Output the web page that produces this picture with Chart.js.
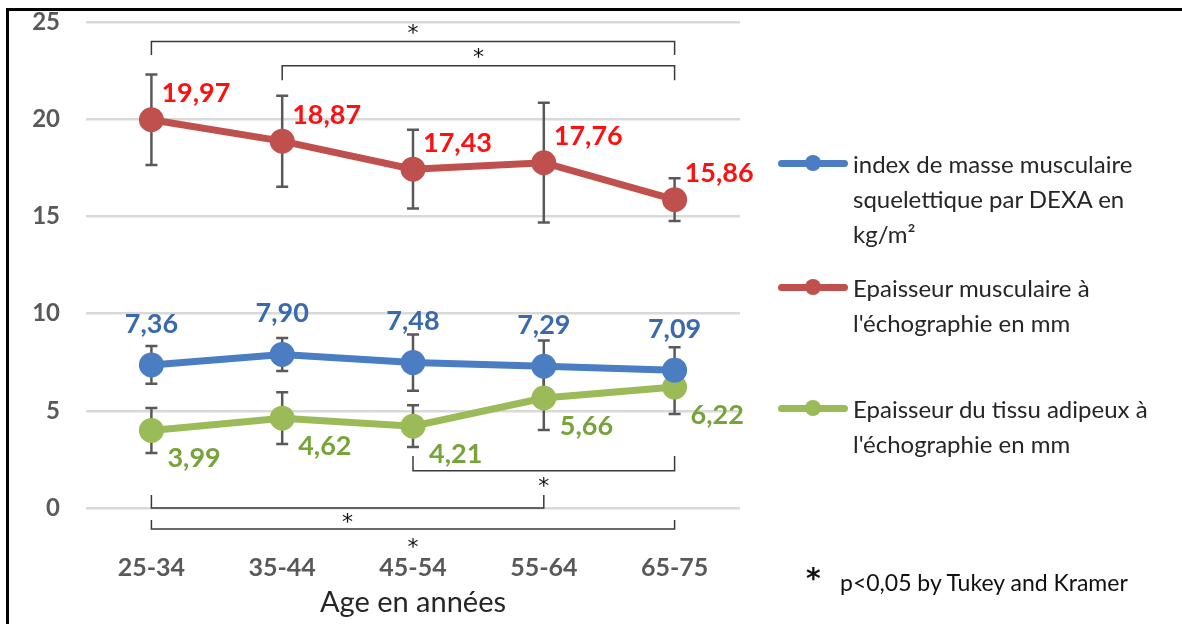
<!doctype html>
<html lang="fr">
  <head>
    <meta charset="utf-8">
    <title>Epaisseur musculaire selon l'age</title>
    <style>
      * { margin: 0; padding: 0; }
      body { width: 1182px; height: 624px; background: #fff; position: relative; overflow: hidden; font-family: Lato, sans-serif; }
      .frame { position: absolute; left: 6px; top: 8px; width: 1200px; height: 700px; border-left: 3px solid #000; border-top: 3px solid #000; }
      #myChart { position: absolute; left: 0; top: 0; }
      .legend { position: absolute; left: 778px; top: 0; color: #262626; font-size: 24px; }
      .legend .item { position: absolute; left: 0; width: 400px; }
      .legend .sym { position: absolute; left: 0; width: 70px; height: 7px; border-radius: 4px; }
      .legend .sym i { position: absolute; left: 27px; top: -5px; width: 16px; height: 16px; border-radius: 50%; background: inherit; }
      .legend .txt { position: absolute; left: 75px; line-height: 35px; white-space: nowrap; }
      .note { position: absolute; left: 840px; top: 568px; font-size: 23px; color: #111; white-space: nowrap; }
      .note b { position: absolute; left: -34px; top: -6px; font-size: 28px; font-family: 'DejaVu Sans', sans-serif; }
    </style>
  </head>
  <body>
    <div class="frame"></div>
    <canvas id="myChart" width="1182" height="624"></canvas>
    <div class="legend" id="legend"></div>
    <div class="note"><b>*</b>p&lt;0,05 by Tukey and Kramer</div>
    <script src="https://cdn.jsdelivr.net/npm/chart.js"></script>
    <script>
    // data
    const categories = ['25-34', '35-44', '45-54', '55-64', '65-75'];
    const yTicks = [0, 5, 10, 15, 20, 25];

    const dexaIndex = [7.36, 7.90, 7.48, 7.29, 7.09];
    const dexaSd = [0.97, 0.85, 1.45, 1.32, 1.18];
    const muscleThickness = [19.97, 18.87, 17.43, 17.76, 15.86];
    const muscleSd = [2.33, 2.34, 2.03, 3.08, 1.10];
    const fatThickness = [3.99, 4.62, 4.21, 5.66, 6.22];
    const fatSd = [1.16, 1.33, 1.07, 1.65, 1.39];

    const seriesLabels = [
      ['index de masse musculaire', 'squelettique par DEXA en', 'kg/m²'],
      ['Epaisseur musculaire à', "l'échographie en mm"],
      ['Epaisseur du tissu adipeux à', "l'échographie en mm"]
    ];

    // significance brackets: category indexes, y level of the bar (axis units)
    const brackets = [
      { from: 0, to: 4, level: 24.0, tip: 23.3, star: 24.6 },
      { from: 1, to: 4, level: 22.75, tip: 22.0, star: 23.4 },
      { from: 2, to: 4, level: 1.92, tip: 2.67, star: 1.3 },
      { from: 0, to: 3, level: 0.0, tip: 0.67, star: -0.55 },
      { from: 0, to: 4, level: -1.08, tip: -0.62, star: -1.82 }
    ];

    const colors = ['#4a7dc2', '#c0504d', '#9bbb59'];
    const labelColors = ['#3a69ad', '#ff1010', '#76a33a'];
    const sdList = [dexaSd, muscleSd, fatSd];
    // label offset per series (px): dx, dy, align
    const labelPos = [
      { dx: 0, dy: -41, align: 'center' },
      { dx: 10, dy: -26, align: 'left' },
      { dx: 16, dy: 28, align: 'left' }
    ];

    // legend (html)
    const legendBox = document.getElementById('legend');
    const legendTops = [163, 287, 408];
    seriesLabels.forEach(function (lines, i) {
      const item = document.createElement('div');
      item.className = 'item';
      item.style.top = (legendTops[i] - 17.5) + 'px';
      item.innerHTML = '<div class="sym" style="top:14px;background:' + colors[i] + '"><i></i></div>' +
        '<div class="txt">' + lines.join('<br>') + '</div>';
      legendBox.appendChild(item);
    });

    // error bars, drawn under the points
    const errorBars = {
      id: 'errorBars',
      beforeDatasetsDraw(chart) {
        const ctx = chart.ctx;
        const y = chart.scales.y;
        ctx.save();
        ctx.strokeStyle = '#595959';
        ctx.lineWidth = 2.5;
        chart.data.datasets.forEach(function (ds, i) {
          const meta = chart.getDatasetMeta(i);
          meta.data.forEach(function (pt, j) {
            const v = ds.data[j];
            const sd = sdList[i][j];
            const top = y.getPixelForValue(v + sd);
            const bot = y.getPixelForValue(v - sd);
            ctx.beginPath();
            ctx.moveTo(pt.x, top); ctx.lineTo(pt.x, bot);
            ctx.moveTo(pt.x - 6, top); ctx.lineTo(pt.x + 6, top);
            ctx.moveTo(pt.x - 6, bot); ctx.lineTo(pt.x + 6, bot);
            ctx.stroke();
          });
        });
        ctx.restore();
      }
    };

    // value labels + significance brackets
    const annotations = {
      id: 'annotations',
      afterDatasetsDraw(chart) {
        const ctx = chart.ctx;
        const x = chart.scales.x;
        const y = chart.scales.y;
        ctx.save();
        ctx.font = 'bold 27px Lato';
        ctx.textBaseline = 'middle';
        chart.data.datasets.forEach(function (ds, i) {
          const meta = chart.getDatasetMeta(i);
          ctx.fillStyle = labelColors[i];
          ctx.textAlign = labelPos[i].align;
          meta.data.forEach(function (pt, j) {
            const txt = ds.data[j].toFixed(2).replace('.', ',');
            ctx.fillText(txt, pt.x + labelPos[i].dx, pt.y + labelPos[i].dy);
          });
        });

        ctx.strokeStyle = '#3a3a3a';
        ctx.lineWidth = 1.5;
        ctx.fillStyle = '#111';
        ctx.font = '22px "DejaVu Sans"';
        ctx.textAlign = 'center';
        brackets.forEach(function (b) {
          const x1 = x.getPixelForValue(b.from);
          const x2 = x.getPixelForValue(b.to);
          const yl = y.getPixelForValue(b.level);
          const yt = y.getPixelForValue(b.tip);
          ctx.beginPath();
          ctx.moveTo(x1, yt); ctx.lineTo(x1, yl); ctx.lineTo(x2, yl); ctx.lineTo(x2, yt);
          ctx.stroke();
          ctx.fillText('*', (x1 + x2) / 2, y.getPixelForValue(b.star) + 5);
        });
        ctx.restore();
      }
    };

    const data = {
      labels: categories,
      datasets: [
        { label: seriesLabels[0].join(' '), data: dexaIndex },
        { label: seriesLabels[1].join(' '), data: muscleThickness },
        { label: seriesLabels[2].join(' '), data: fatThickness }
      ].map(function (d, i) {
        return Object.assign(d, {
          borderColor: colors[i],
          backgroundColor: colors[i],
          pointBackgroundColor: colors[i],
          pointBorderColor: colors[i],
          borderWidth: 7,
          pointRadius: 9,
          tension: 0
        });
      })
    };

    const config = {
      type: 'line',
      data,
      options: {
        responsive: false,
        animation: false,
        devicePixelRatio: 1,
        layout: { padding: { left: 0, right: 442, top: 22, bottom: 0 } },
        plugins: { legend: { display: false }, tooltip: { enabled: false } },
        scales: {
          x: {
            offset: true,
            grid: { display: false, drawTicks: false },
            border: { display: false },
            ticks: { color: '#595959', font: { family: 'Lato', size: 25, weight: 'bold' }, padding: 45 },
            title: { display: true, text: 'Age en années', color: '#262626', font: { family: 'Lato', size: 29 }, padding: { top: 0, bottom: 4 } },
            afterFit: function (s) { s.height = 116; }
          },
          y: {
            min: 0,
            max: 25,
            afterBuildTicks: function (s) { s.ticks = yTicks.map(function (v) { return { value: v }; }); },
            grid: { color: '#d9d9d9', lineWidth: 2.5, drawTicks: false },
            border: { display: false },
            ticks: { color: '#595959', font: { family: 'Lato', size: 24, weight: 'bold' }, padding: 26 },
            afterFit: function (s) { s.width = 86; s.paddingTop = 0; s.paddingBottom = 0; }
          }
        }
      },
      plugins: [errorBars, annotations]
    };

    function draw() {
      new Chart(document.getElementById('myChart'), config);
    }
    Promise.all([
      document.fonts.load('bold 27px Lato'),
      document.fonts.load('22px "DejaVu Sans"')
    ]).then(draw, draw);
    </script>
  </body>
</html>
